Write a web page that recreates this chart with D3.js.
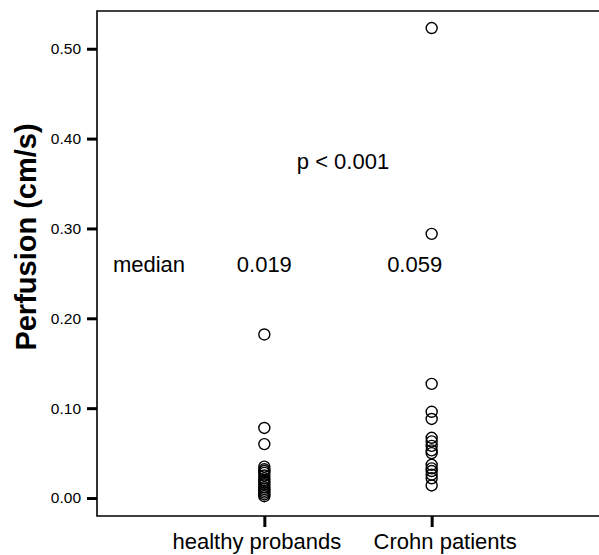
<!DOCTYPE html>
<html>
<head>
<meta charset="utf-8">
<script src="https://cdn.jsdelivr.net/npm/d3@7"></script>
<style>
  body { margin: 0; background: #fff; }
  svg { display: block; font-family: "Liberation Sans", Arial, sans-serif; }
</style>
</head>
<body>
<div id="chart"></div>
<script>
const groups = ["healthy probands", "Crohn patients"];
const healthyValues = [0.182, 0.078, 0.060, 0.035, 0.032, 0.030, 0.028, 0.025, 0.022, 0.019,
                       0.017, 0.015, 0.012, 0.010, 0.008, 0.006, 0.004, 0.002];
const crohnValues = [0.523, 0.294, 0.127, 0.096, 0.088, 0.067, 0.063, 0.058, 0.053, 0.050,
                     0.037, 0.033, 0.030, 0.026, 0.022, 0.014];
const medians = ["0.019", "0.059"];
const yTicks = [0, 0.1, 0.2, 0.3, 0.4, 0.5];

const width = 599, height = 555;
const plotLeft = 97, plotTop = 11, plotRight = 599, plotBottom = 516;
const font = "Liberation Sans, Arial, sans-serif";

const svg = d3.select("#chart").append("svg")
    .attr("width", width)
    .attr("height", height);

const x = d3.scalePoint().domain(groups).range([plotLeft, plotRight]).padding(1);
const y = d3.scaleLinear().domain([-0.02, 0.542]).range([plotBottom, plotTop]);

// frame (left, top, bottom) - right side is cut off
svg.append("path")
    .attr("d", `M${plotRight},${plotTop}H${plotLeft}V${plotBottom}H${plotRight}`)
    .attr("fill", "none")
    .attr("stroke", "#000")
    .attr("stroke-width", 1.6);

// y axis
const yAxis = svg.append("g")
    .attr("transform", `translate(${plotLeft},0)`)
    .call(d3.axisLeft(y).tickValues(yTicks).tickFormat(d3.format(".2f")).tickSize(10).tickPadding(6));
yAxis.select(".domain").remove();
yAxis.selectAll(".tick line").attr("stroke", "#000").attr("stroke-width", 3);
yAxis.selectAll(".tick text")
    .attr("font-size", 15.5)
    .attr("font-family", font)
    .attr("fill", "#000");

// x axis (labels sit a little off-centre in the original)
const labelShift = [-8, 13];
const xAxis = svg.append("g")
    .attr("transform", `translate(0,${plotBottom})`)
    .call(d3.axisBottom(x).tickSize(11).tickPadding(0));
xAxis.select(".domain").remove();
xAxis.selectAll(".tick line").attr("stroke", "#000").attr("stroke-width", 3);
xAxis.selectAll(".tick text")
    .attr("dy", null)
    .attr("y", 33)
    .attr("x", (d, i) => labelShift[i])
    .attr("font-size", 22)
    .attr("font-family", font)
    .attr("fill", "#000");

// y label
svg.append("text")
    .attr("transform", `translate(36,237) rotate(-90)`)
    .attr("text-anchor", "middle")
    .attr("font-size", 29)
    .attr("font-weight", "bold")
    .text("Perfusion (cm/s)");

// points
const pts = [];
healthyValues.forEach(v => pts.push({ g: groups[0], v }));
crohnValues.forEach(v => pts.push({ g: groups[1], v }));

svg.append("g").selectAll("circle")
    .data(pts)
    .enter().append("circle")
    .attr("cx", d => x(d.g))
    .attr("cy", d => y(d.v))
    .attr("r", 5.5)
    .attr("fill", "none")
    .attr("stroke", "#000")
    .attr("stroke-width", 1.4);

// annotations
svg.append("text")
    .attr("x", 149).attr("y", 272)
    .attr("text-anchor", "middle")
    .attr("font-size", 22)
    .text("median");

svg.selectAll(".med")
    .data(medians)
    .enter().append("text")
    .attr("class", "med")
    .attr("x", (d, i) => x(groups[i]) - (i === 1 ? 17 : 0))
    .attr("y", 272)
    .attr("text-anchor", "middle")
    .attr("font-size", 22)
    .text(d => d);

svg.append("text")
    .attr("x", 343).attr("y", 169)
    .attr("text-anchor", "middle")
    .attr("font-size", 22)
    .text("p < 0.001");
</script>
</body>
</html>
